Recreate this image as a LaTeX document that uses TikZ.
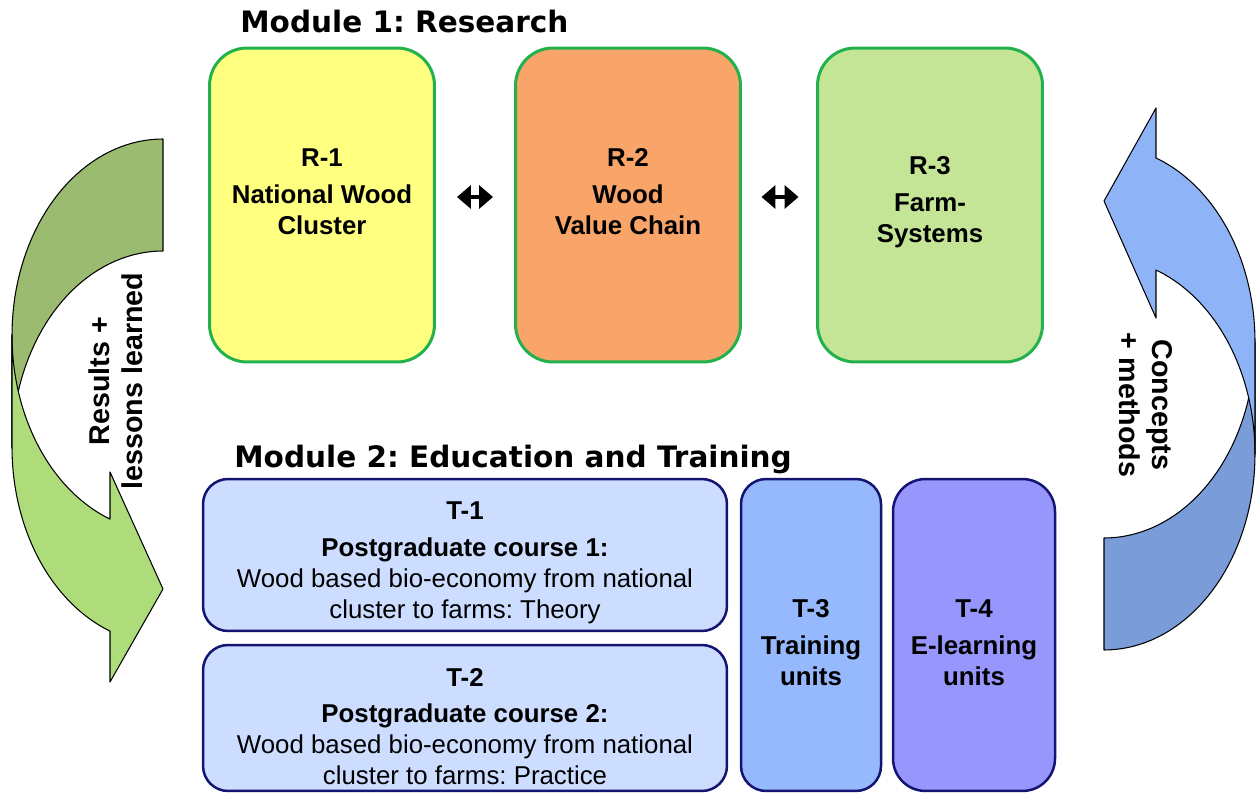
\documentclass[tikz,border=0pt]{standalone}
\usepackage{fontspec}
\setmainfont{Liberation Sans}
\newfontfamily\titlefont{DejaVu Sans}
\usetikzlibrary{arrows.meta, positioning, calc}
\frenchspacing
\definecolor{rgreen}{RGB}{35,177,77}
\definecolor{tnavy}{RGB}{20,20,115}
\definecolor{ronefill}{RGB}{255,255,128}
\definecolor{rtwofill}{RGB}{249,164,104}
\definecolor{rthreefill}{RGB}{196,228,150}
\definecolor{tcoursefill}{RGB}{204,221,255}
\definecolor{tunitfill}{RGB}{150,184,252}
\definecolor{tlearnfill}{RGB}{150,150,252}
\definecolor{greendark}{RGB}{155,187,112}
\definecolor{greenlight}{RGB}{174,220,122}
\definecolor{bluedark}{RGB}{122,156,216}
\definecolor{bluelight}{RGB}{143,179,247}

\begin{document}
\begin{tikzpicture}[x=0.02cm, y=-0.02cm,
  rbox/.style = {draw=rgreen, line width=0.06cm, rounded corners=0.75cm, minimum width=4.5cm, minimum height=6.28cm, inner sep=0},
  tbox/.style = {draw=tnavy, line width=0.05cm, rounded corners=0.5cm, inner sep=0},
  boxtext/.style = {font=\bfseries\fontsize{14.7}{17.6}\selectfont, align=center, inner sep=0},
  modtitle/.style = {font=\titlefont\bfseries\fontsize{16.8}{20}\selectfont, anchor=base west, inner sep=0},
  sidetext/.style = {font=\bfseries\fontsize{16.3}{18.7}\selectfont, align=center, inner sep=0},
  bigarrow/.style = {draw=black, line width=0.6pt, line join=round},
  dblarrow/.style = {{Triangle[length=0.28cm, width=0.46cm]}-{Triangle[length=0.28cm, width=0.46cm]}, line width=0.09cm}
]
\useasboundingbox (0,0) rectangle (1256,793);

\draw[bigarrow, fill=greendark] plot[domain=270:180, samples=40] ({163+151*cos(\x)},{335.3+196.3*sin(\x)})
  -- plot[domain=180:270, samples=40] ({163+151*cos(\x)},{447.3+196.3*sin(\x)}) -- cycle;
\draw[bigarrow, fill=greenlight] plot[domain=180:110.55, samples=40] ({163+151*cos(\x)},{335.3+196.3*sin(\x)})
  -- (110,472) -- (163,589) -- (110,682)
  -- plot[domain=110.55:180, samples=40] ({163+151*cos(\x)},{447.3+196.3*sin(\x)}) -- cycle;

\draw[bigarrow, fill=bluedark] plot[domain=90:0, samples=40] ({1104+151*cos(\x)},{454+196*sin(\x)})
  -- plot[domain=0:90, samples=40] ({1104+151*cos(\x)},{342+196*sin(\x)}) -- cycle;
\draw[bigarrow, fill=bluelight] plot[domain=0:-69.86, samples=40] ({1104+151*cos(\x)},{342+196*sin(\x)})
  -- (1156,108) -- (1104,201) -- (1156,318)
  -- plot[domain=-69.86:0, samples=40] ({1104+151*cos(\x)},{454+196*sin(\x)}) -- cycle;

\node[sidetext, rotate=90] (results) at (116,381) {Results +\\lessons learned};
\node[sidetext, rotate=-90] (concepts) at (1146,405) {Concepts\\+ methods};

\node[modtitle] (module1) at (240,33) {Module 1: Research};
\node[modtitle] (module2) at (234,467) {Module 2: Education and Training};

\node[rbox, fill=ronefill] (r1) at (322,205) {};
\node[rbox, fill=rtwofill] (r2) at (628,205) {};
\node[rbox, fill=rthreefill] (r3) at (930,205) {};
\node[boxtext] (r1text) at ([yshift=0.26cm]r1.center) {R-1\\[3.4pt]National Wood\\Cluster};
\node[boxtext] (r2text) at ([yshift=0.26cm]r2.center) {R-2\\[3.4pt]Wood\\Value Chain};
\node[boxtext] (r3text) at ([yshift=0.06cm]r3.center) {R-3\\[3.4pt]Farm-\\Systems};

\draw[dblarrow, shorten <=0.42cm, shorten >=0.42cm] ([yshift=0.16cm]r1.east) -- ([yshift=0.16cm]r2.west);
\draw[dblarrow, shorten <=0.39cm, shorten >=0.35cm] ([yshift=0.16cm]r2.east) -- ([yshift=0.16cm]r3.west);

\node[tbox, fill=tcoursefill, minimum width=10.48cm, minimum height=3.04cm] (t1) at (465,555) {};
\node[tbox, fill=tcoursefill, minimum width=10.48cm, minimum height=2.92cm] (t2) at (465,718) {};
\node[tbox, fill=tunitfill, minimum width=2.8cm, minimum height=6.24cm] (t3) at (811,635) {};
\node[tbox, fill=tlearnfill, rounded corners=0.65cm, minimum width=3.24cm, minimum height=6.24cm] (t4) at (974,635) {};
\node[boxtext] (t1text) at ([yshift=-0.16cm]t1.center) {T-1\\[3.4pt]Postgraduate course 1:\\\textmd{Wood based bio-economy from national}\\\textmd{cluster to farms: Theory}};
\node[boxtext] (t2text) at ([yshift=-0.17cm]t2.center) {T-2\\[3.4pt]Postgraduate course 2:\\\textmd{Wood based bio-economy from national}\\\textmd{cluster to farms: Practice}};
\node[boxtext] (t3text) at ([yshift=-0.16cm]t3.center) {T-3\\[3.4pt]Training\\units};
\node[boxtext] (t4text) at ([yshift=-0.16cm]t4.center) {T-4\\[3.4pt]E-learning\\units};
\end{tikzpicture}
\end{document}
